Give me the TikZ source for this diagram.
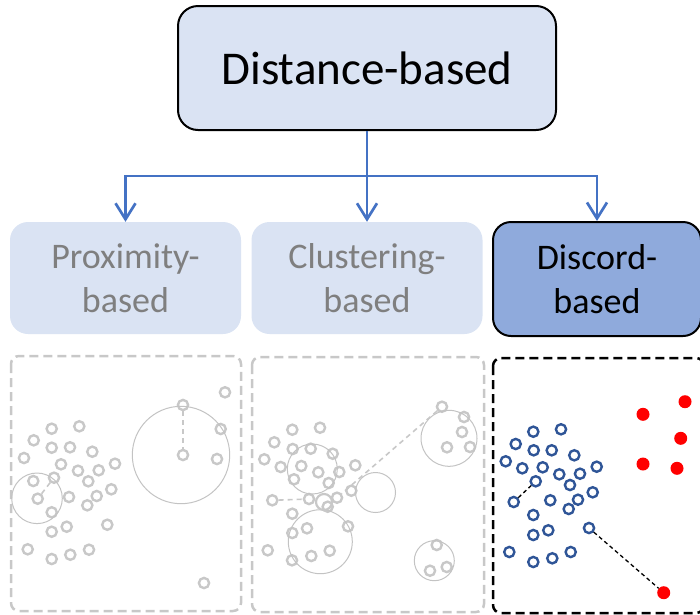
\documentclass[tikz,border=0pt]{standalone}
\usepackage{fontspec}
\setmainfont{Carlito}
\usetikzlibrary{arrows.meta}
\definecolor{boxfill}{RGB}{218,227,243}
\definecolor{discfill}{RGB}{143,170,220}
\definecolor{linkblue}{RGB}{68,114,196}
\definecolor{dotgray}{RGB}{200,200,200}
\definecolor{ringgray}{RGB}{195,195,195}
\definecolor{txtgray}{RGB}{127,127,127}
\definecolor{dotblue}{RGB}{47,85,151}
\tikzset{
  topbox/.style={draw, line width=2pt, fill=boxfill, rounded corners=20pt,
    minimum width=378pt, minimum height=124pt, font=\fontsize{47}{52}\selectfont},
  subbox/.style={fill=boxfill, rounded corners=18pt, minimum width=231pt,
    minimum height=112pt, align=center, text=txtgray, font=\fontsize{36}{44}\selectfont},
  discbox/.style={subbox, draw, line width=2pt, fill=discfill, text=black,
    minimum width=208pt, minimum height=114pt},
  link/.style={draw=linkblue, line width=2.7pt},
  tip/.style={-{Straight Barb[length=16pt, width=20pt]}},
  panel/.style={draw=dotgray, line width=2.5pt, rounded corners=8pt, dash pattern=on 9pt off 5pt},
  gpt/.style={circle, draw=dotgray, line width=2.4pt, minimum size=10.2pt, inner sep=0pt},
  bpt/.style={gpt, draw=dotblue},
  rpt/.style={circle, fill=red, minimum size=13pt, inner sep=0pt},
  ring/.style={draw=ringgray, line width=1pt},
  gdash/.style={draw=dotgray, line width=1.6pt, dash pattern=on 5pt off 4pt},
  kdash/.style={draw=black, line width=1.3pt, dash pattern=on 4pt off 3pt}
}
\begin{document}
\begin{tikzpicture}[x=1pt,y=-1pt]
  \useasboundingbox (0,0) rectangle (700,614);

  % hierarchy
  \node[topbox] (dist) at (367,68) {Distance-based};
  \node[subbox] (prox) at (125.5,278) {Proximity-\\based};
  \node[subbox] (clus) at (367,278) {Clustering-\\based};
  \node[discbox] (disc) at (597,279) {Discord-\\based};
  \coordinate (split) at (367,176);
  \draw[link] (dist.south) -- (split);
  \draw[link,tip] (split) -| (prox.north);
  \draw[link,tip] (split) -- (clus.north);
  \draw[link,tip] (split) -| (disc.north);

  % panels
  \draw[panel] (11,356) rectangle (241,611);
  \draw[panel] (252,357) rectangle (484,612);
  \draw[panel, draw=black] (493,358) rectangle (704,613);

  % proximity-based
  \foreach \x/\y [count=\i] in {51.7/428.7, 79.3/426.3, 33.7/440.3, 51.7/447.7, 70/447.3,
      92.3/451.7, 24/458, 61/464.3, 78/470.7, 98.7/470.3, 115/463.7, 33.3/481, 54/477.7,
      88.3/481.3, 37.7/498.7, 69/497, 96.7/496, 111.3/489.3, 87.3/505.3, 51.7/512.3,
      66.7/526.7, 51.7/531.7, 107.3/524.7, 27.7/549.3, 51.7/559, 70.3/554.7, 89/549.7}
    \node[gpt] (a\i) at (\x,\y) {};
  \foreach \x/\y in {225/392.3, 220.7/429, 217/459, 204/583}
    \node[gpt] at (\x,\y) {};
  \node[gpt] (atop) at (183,405) {};
  \node[gpt] (actr) at (183,455) {};
  \draw[ring] (181,455) circle[radius=48.7];
  \draw[ring] (37,498.3) circle[radius=25.3];
  \draw[gdash] (atop) -- (actr);
  \draw[gdash] (a15) -- (a13);

  % clustering-based
  \foreach \x/\y [count=\i] in {292.3/429.7, 320/427.7, 274.3/442.3, 292.7/449, 310.7/448.7,
      332.7/453.7, 264.3/459.3, 301.3/466, 318.3/472.3, 339.3/472, 355.3/465.3, 280.7/467,
      294/479.3, 328.7/483, 272.3/500.3, 309/499, 337/497.7, 351.3/490.7, 327.7/506.7,
      292.3/513.7, 307/528.3, 292.3/533, 348/526.3, 267.7/550.3, 292/560.3, 311.3/556, 329.7/550.7}
    \node[gpt] (b\i) at (\x,\y) {};
  \foreach \x/\y in {464/417, 462/432, 447/447.3, 470/447, 436.7/545, 446.7/567, 430/570.7}
    \node[gpt] at (\x,\y) {};
  \node[gpt] (bfar) at (442,406.7) {};
  \draw[ring] (312.3,469) circle[radius=25];
  \draw[ring] (375.5,492.5) circle[radius=20];
  \draw[ring] (320.3,541.7) circle[radius=32];
  \draw[ring] (449,438.3) circle[radius=28];
  \draw[ring] (434.3,560.7) circle[radius=20];
  \draw[ring, line width=2.2pt, draw=dotgray] (324,502) circle[radius=8];
  \draw[gdash] (b15) -- (b16);
  \draw[gdash] (bfar) -- (b17);

  % discord-based
  \foreach \x/\y [count=\i] in {533.3/431.7, 561/429.3, 515.7/444, 533.7/450.3, 551.7/450.3,
      574.3/455.3, 505.7/461.3, 542.7/467.3, 559.3/474.3, 580/473.7, 596.7/466.7, 522.3/468.3,
      535.7/481.3, 570/485, 513.7/502, 550.3/500.3, 578/499.7, 592.7/492.3, 568.7/509,
      533.3/515, 548.3/530.3, 533.3/535, 589/528, 509.3/552, 533.3/562, 552.3/558.3, 570.7/552}
    \node[bpt] (c\i) at (\x,\y) {};
  \foreach \x/\y in {685/401.7, 643/414.3, 680.7/438.3, 643/464, 677/468.3}
    \node[rpt] at (\x,\y) {};
  \node[rpt] (cout) at (663.7,592.7) {};
  \draw[kdash] (c15) -- (c13);
  \draw[kdash] (c23) -- (cout);
\end{tikzpicture}
\end{document}
